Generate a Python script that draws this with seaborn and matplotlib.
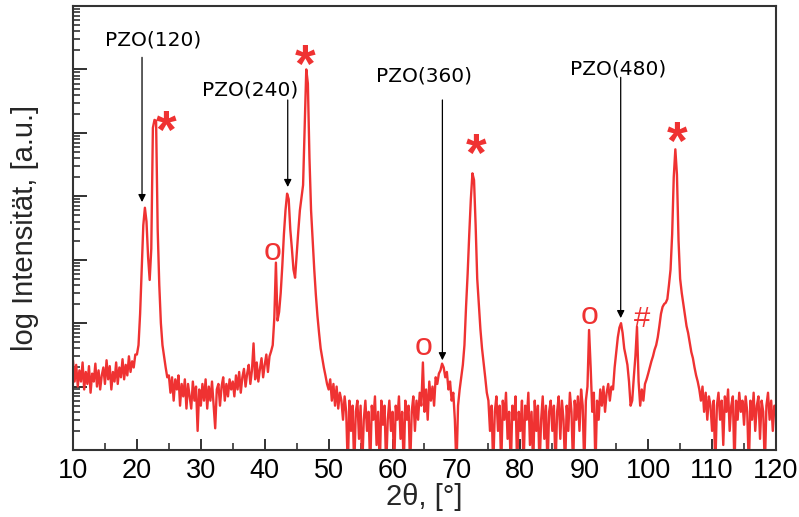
import numpy as np
import pandas as pd
import matplotlib
matplotlib.use("Agg")
import matplotlib.pyplot as plt
from matplotlib.ticker import LogLocator, NullFormatter, MultipleLocator
import seaborn as sns

# ---------------- data ----------------
# scan grid 2theta = 10 ... 120 deg, step 0.25 deg
two_theta = np.arange(10.0, 120.0001, 0.25)

seg_10_20 = [26, 12, 22, 10, 18, 12, 24, 9, 17, 11, 21, 8, 16, 12, 23, 10, 18, 9, 15, 20,
             11, 26, 13, 21, 9, 17, 12, 24, 11, 20, 14, 27, 13, 22, 15, 30, 17, 25, 20, 32]
seg_20_30 = [32, 45, 140, 700, 3500, 6600, 4000, 1100, 480, 1500, 120000, 160000, 155000, 3000, 400, 100, 45, 30, 20, 14,
             15, 8, 14, 6, 13, 9, 15, 5, 11, 7, 13, 4.5, 11, 7, 4.5, 12, 6, 10, 2, 9]
seg_30_40 = [5, 11, 6, 13, 4.5, 10, 6, 12, 5, 2.2, 9, 11, 5, 10, 14, 6, 11, 7, 13, 9,
             12, 7, 15, 9, 17, 8, 14, 19, 10, 16, 22, 11, 18, 48, 13, 24, 12, 19, 28, 14]
seg_40_50 = [22, 32, 17, 30, 36, 45, 120, 900, 110, 150, 300, 800, 2500, 6000, 11000, 9000, 3000, 1500, 700, 520,
             1200, 2800, 6000, 9500, 15000, 120000, 1000000, 600000, 40000, 6000, 2000, 700, 280, 130, 70, 40, 28, 20, 15, 11]
seg_50_60 = [9, 13, 6, 11, 5, 10, 4.5, 8, 6, 3, 7, 4, 0.5, 6, 2, 5, 0.5, 4, 6, 1.5,
             5, 0.5, 3, 6, 2, 4, 0.5, 5, 3, 7, 1.2, 4, 0.5, 6, 2.5, 5, 0.5, 3, 6, 2]
seg_60_70 = [4, 0.5, 5, 3, 7, 1.5, 4, 0.5, 6, 3, 5, 0.5, 4, 7, 2, 6, 3, 8, 5, 24,
             4, 9, 3, 12, 6, 10, 5, 14, 11, 16, 18, 23, 20, 14, 17, 9, 12, 6, 8, 3]
seg_70_80 = [0.5, 5, 9, 14, 22, 45, 180, 600, 2500, 9000, 23000, 18000, 3500, 500, 200, 80, 40, 24, 14, 8,
             6, 2, 5, 0.5, 4, 7, 2, 5, 0.5, 6, 3, 8, 1.5, 4, 0.5, 5, 3, 7, 0.5, 4]
seg_80_90 = [2, 6, 0.5, 5, 3, 8, 1.2, 4, 0.5, 6, 2, 5, 0.5, 3, 7, 1.5, 5, 0.5, 4, 6,
             2, 5, 0.5, 4, 7, 1.5, 6, 3, 0.5, 5, 2, 8, 4, 0.5, 6, 3, 7, 2, 9, 5]
seg_90_100 = [0.5, 6, 10, 78, 20, 4, 8, 0.5, 6, 3, 9, 5, 10, 4, 8, 11, 6, 10, 9, 20,
              35, 60, 85, 100, 70, 40, 30, 22, 12, 5, 6, 14, 30, 87, 12, 5, 9, 6, 11, 13]
seg_100_110 = [16, 20, 25, 30, 38, 45, 60, 90, 140, 180, 200, 210, 240, 400, 700, 2500, 20000, 55000, 22000, 2000,
               500, 300, 200, 130, 90, 70, 50, 35, 28, 20, 15, 12, 9, 6, 10, 4, 8, 3, 7, 5]
seg_110_120 = [2, 6, 0.5, 5, 8, 3, 6, 1.2, 7, 4, 9, 2, 5, 7, 0.5, 6, 3, 8, 4, 6,
               2.5, 7, 4, 0.5, 6, 3, 8, 2, 5, 7, 1.5, 6, 4, 0.5, 5, 8, 3, 6, 2, 5,
               4]

intensity = (seg_10_20 + seg_20_30 + seg_30_40 + seg_40_50 + seg_50_60 + seg_60_70 +
             seg_70_80 + seg_80_90 + seg_90_100 + seg_100_110 + seg_110_120)

# PZO reflections (label, 2theta of arrow, intensity at arrow tip)
pzo_labels = ["PZO(120)", "PZO(240)", "PZO(360)", "PZO(480)"]
pzo_theta = [20.8, 43.6, 67.8, 95.7]
pzo_tip = [8100, 14000, 26, 120]
# substrate peaks (*), other phase (o), and (#)
star_theta = [24.55, 46.3, 73.1, 104.5]
star_int = [0.97e5, 1.05e6, 4.1e4, 6.5e4]
o_theta = [41.3, 64.8, 90.75]
o_int = [1300, 42, 130]
hash_theta = [99.05]
hash_int = [115]

x_ticks = [10, 20, 30, 40, 50, 60, 70, 80, 90, 100, 110, 120]

# ---------------- plot ----------------
sns.set_theme(style="white")
plt.rcParams["font.family"] = ["Liberation Sans", "DejaVu Sans"]

df = pd.DataFrame({"two_theta": two_theta, "intensity": intensity})

W, H = 799, 517
fig = plt.figure(figsize=(W / 100, H / 100), dpi=100)
ax = fig.add_axes([73 / W, 1 - 450 / H, (776 - 73) / W, (450 - 6) / H])

red = "#EF3232"
sns.lineplot(data=df, x="two_theta", y="intensity", ax=ax, color=red,
             linewidth=1.7, estimator=None, sort=False)

ax.set_yscale("log")
ax.set_xlim(10, 120)
ax.set_ylim(1, 1e7)

ax.set_xticks(x_ticks)
ax.set_xticklabels([str(t) for t in x_ticks], fontsize=19.5)
ax.xaxis.set_minor_locator(MultipleLocator(5))
ax.yaxis.set_major_locator(LogLocator(base=10, numticks=20))
ax.yaxis.set_minor_locator(LogLocator(base=10, subs=np.arange(2, 10), numticks=20))
ax.yaxis.set_major_formatter(NullFormatter())
ax.yaxis.set_minor_formatter(NullFormatter())

ax.tick_params(axis="x", which="major", direction="in", length=8, width=1.3,
               colors="#222222", labelcolor="black", top=False, bottom=True, pad=6)
ax.tick_params(axis="x", which="minor", direction="in", length=5, width=1.1,
               colors="#222222", top=False, bottom=True)
ax.tick_params(axis="y", which="major", direction="in", length=10, width=1.3,
               colors="#222222", left=True, right=False)
ax.tick_params(axis="y", which="minor", direction="in", length=5, width=1.1,
               colors="#222222", left=True, right=False)

for s in ax.spines.values():
    s.set_color("#333333")
    s.set_linewidth(1.5)

ax.set_xlabel("2θ, [°]", fontsize=21, labelpad=-1)
ax.set_ylabel("log Intensität, [a.u.]", fontsize=21, labelpad=21)

# PZO annotations with arrows
text_pos = [(22.5, 2.9e6), (37.7, 4.7e5), (64.9, 7.9e5), (95.3, 1.0e6)]
arrow_start = [1.55e6, 3.3e5, 3.3e5, 7.5e5]
for lab, xt, yt, (tx, ty), ys in zip(pzo_labels, pzo_theta, pzo_tip, text_pos, arrow_start):
    ax.text(tx, ty, lab, ha="center", va="center", fontsize=14.5,
            family=["DejaVu Sans"], color="black")
    ax.annotate("", xy=(xt, yt), xytext=(xt, ys),
                arrowprops=dict(arrowstyle="-|>", color="black", lw=0.9,
                                mutation_scale=11, shrinkA=0, shrinkB=0))

for xs, ys in zip(star_theta, star_int):
    ax.text(xs, ys, "*", ha="center", va="center", fontsize=38,
            fontweight="bold", color=red)
for xs, ys in zip(o_theta, o_int):
    ax.text(xs, ys, "o", ha="center", va="center", fontsize=23, color=red)
for xs, ys in zip(hash_theta, hash_int):
    ax.text(xs, ys, "#", ha="center", va="center", fontsize=21, color=red)

fig.savefig("out.png", dpi=100)
